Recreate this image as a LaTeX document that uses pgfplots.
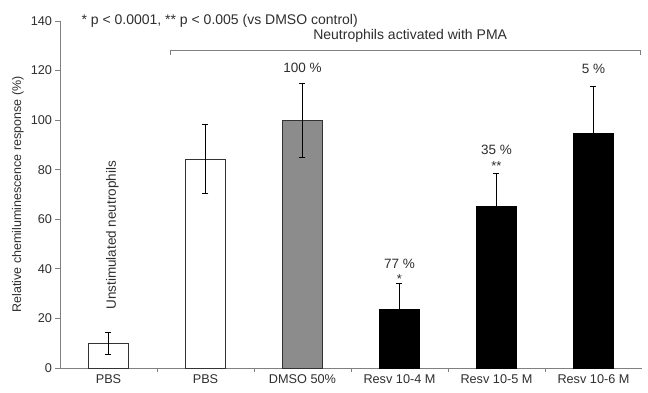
\documentclass[border=0pt]{standalone}
\usepackage{pgfplots}
\pgfplotsset{compat=1.18}
\usepackage{fontspec}
\setmainfont{Liberation Sans}
\definecolor{txt}{gray}{0.18}
\definecolor{barg}{gray}{0.55}
\begin{document}
\begin{tikzpicture}
\begin{axis}[
  scale only axis, width=582pt, height=347pt,
  xmin=-0.5, xmax=5.5, ymin=0, ymax=140,
  clip=false,
  axis x line*=bottom, axis y line*=left,
  axis line style={gray, line width=0.8pt},
  tick style={gray, line width=0.8pt},
  tick align=outside, major tick length=4.5pt,
  ytick={0,20,...,140},
  xtick={0.5,1.5,2.5,3.5,4.5}, xticklabels={},
  extra x ticks={0,1,2,3,4,5},
  extra x tick labels={PBS,PBS,DMSO 50\%,Resv 10-4 M,Resv 10-5 M,Resv 10-6 M},
  extra x tick style={major tick length=0pt, xticklabel style={yshift=-3pt}},
  ticklabel style={font=\fontsize{12.7}{14}\selectfont, text=txt},
  /pgf/number format/assume math mode=true,
  ylabel={Relative chemiluminescence response (\%)},
  ylabel style={font=\fontsize{12.5}{14}\selectfont, text=txt,
    at={(axis description cs:-0.0722,0.5)}, anchor=center},
  every axis plot/.append style={ybar, bar width=40pt, bar shift=0pt},
  error bars/error bar style={line width=0.8pt, black},
  error bars/error mark options={rotate=90, mark size=3pt, line width=0.8pt, black},
]
\addplot[draw=black!80, fill=white, line width=0.9pt,
  error bars/.cd, y dir=both, y explicit]
  coordinates {(0,10) +- (0,4.5) (1,84.3) +- (0,14)};
\addplot[draw=black!80, fill=barg, line width=0.9pt,
  error bars/.cd, y dir=both, y explicit]
  coordinates {(2,100) +- (0,15)};
\addplot[draw=black, fill=black, line width=0.9pt,
  error bars/.cd, y dir=plus, y explicit]
  coordinates {(3,23.5) +- (0,10.5) (4,65) +- (0,13.5) (5,94.7) +- (0,19)};
% annotations
\node[rotate=90, font=\fontsize{13.5}{15}\selectfont, text=txt] at (axis cs:0.04,53.5) {Unstimulated neutrophils};
\node[font=\fontsize{13.5}{15}\selectfont, text=txt] at (axis cs:2,121) {100 \%};
\node[font=\fontsize{13.5}{15}\selectfont, text=txt] at (axis cs:3,42) {77 \%};
\node[font=\fontsize{13}{15}\selectfont, text=txt] at (axis cs:3,36) {*};
\node[font=\fontsize{13.5}{15}\selectfont, text=txt] at (axis cs:4,88) {35 \%};
\node[font=\fontsize{13}{15}\selectfont, text=txt] at (axis cs:4,81.5) {**};
\node[font=\fontsize{13.5}{15}\selectfont, text=txt] at (axis cs:5,120.5) {5 \%};
\node[anchor=west, inner sep=0pt, font=\fontsize{14}{16}\selectfont, text=txt] at (axis cs:-0.28,140.2) {* p < 0.0001, ** p < 0.005 (vs DMSO control)};
\node[font=\fontsize{14}{16}\selectfont, text=txt] at (axis cs:3.11,133.8) {Neutrophils activated with PMA};
\draw[gray, line width=0.8pt] (axis cs:0.634,126.2) -- (axis cs:0.634,128.2) -- (axis cs:5.48,128.2) -- (axis cs:5.48,126.2);
\end{axis}
\path (-60pt,-25pt) rectangle (588pt,368pt);
\end{tikzpicture}
\end{document}
